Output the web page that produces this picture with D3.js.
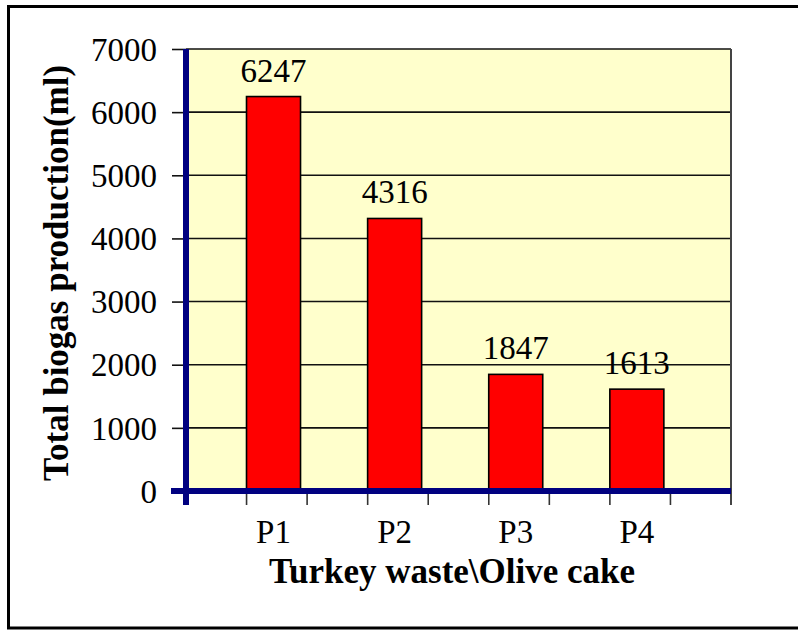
<!DOCTYPE html>
<html>
<head>
<meta charset="utf-8">
<script src="https://cdn.jsdelivr.net/npm/d3@7/dist/d3.min.js"></script>
<style>
  html, body { margin: 0; padding: 0; background: #ffffff; }
  svg { display: block; }
</style>
</head>
<body>
<svg id="chart" width="798" height="630"></svg>
<script>
// ---- data ----
const categories = ["P1", "P2", "P3", "P4"];
const values = [6247, 4316, 1847, 1613];
const yTicks = [0, 1000, 2000, 3000, 4000, 5000, 6000, 7000];
const yTickLabels = ["0", "1000", "2000", "3000", "4000", "5000", "6000", "7000"];
const yTitle = "Total biogas production(ml)";
const xTitle = "Turkey waste\\Olive cake";

// ---- layout ----
const W = 798, H = 630;
const plot = { left: 186, right: 731, top: 49, bottom: 491 };
const slotCount = 9;
const serif = "'Liberation Serif', 'Times New Roman', serif";

const svg = d3.select("#chart");

// outer frame
svg.append("rect")
  .attr("x", 8.5).attr("y", 6.5)
  .attr("width", 800).attr("height", 621.5)
  .attr("fill", "#ffffff")
  .attr("stroke", "#000").attr("stroke-width", 3);

const y = d3.scaleLinear().domain([0, 7000]).range([plot.bottom, plot.top]);
const x = d3.scaleBand().domain(categories)
  .range([plot.left, plot.right])
  .paddingInner(0.554).paddingOuter(0.527).align(0.474);
const slot = d3.scaleLinear().domain([0, slotCount]).range([plot.left, plot.right]);

// plot background
svg.append("rect")
  .attr("x", plot.left).attr("y", plot.top)
  .attr("width", plot.right - plot.left).attr("height", plot.bottom - plot.top)
  .attr("fill", "#FFFFCC");

// gridlines
svg.append("g").selectAll("line").data(yTicks.filter(d => d > 0)).join("line")
  .attr("x1", plot.left).attr("x2", plot.right)
  .attr("y1", d => y(d)).attr("y2", d => y(d))
  .attr("stroke", "#111").attr("stroke-width", 1.6);

// right border of plot
svg.append("line")
  .attr("x1", plot.right).attr("x2", plot.right)
  .attr("y1", plot.top).attr("y2", plot.bottom + 14)
  .attr("stroke", "#444").attr("stroke-width", 2);

// x slot ticks
svg.append("g").selectAll("line").data(d3.range(1, slotCount)).join("line")
  .attr("x1", d => slot(d)).attr("x2", d => slot(d))
  .attr("y1", plot.bottom + 2).attr("y2", plot.bottom + 14)
  .attr("stroke", "#333").attr("stroke-width", 1.6);

// bars
svg.append("g").selectAll("rect").data(values).join("rect")
  .attr("x", (d, i) => x(categories[i]))
  .attr("y", d => y(d))
  .attr("width", x.bandwidth())
  .attr("height", d => y(0) - y(d))
  .attr("fill", "#FF0000")
  .attr("stroke", "#000").attr("stroke-width", 1.6);

// y axis ticks + labels
const yAxis = d3.axisLeft(y).tickValues(yTicks)
  .tickFormat((d, i) => yTickLabels[i])
  .tickSizeInner(14).tickSizeOuter(0).tickPadding(15);
const gy = svg.append("g").attr("transform", `translate(${plot.left},0)`).call(yAxis);
gy.select(".domain").remove();
gy.selectAll(".tick line").attr("stroke", "#111").attr("stroke-width", 1.6);
gy.selectAll(".tick text")
  .attr("font-family", serif).attr("font-size", 33).attr("fill", "#000")
  .attr("dy", "0.34em");

// blue axes
svg.append("line")
  .attr("x1", plot.left - 15).attr("x2", plot.right)
  .attr("y1", plot.bottom).attr("y2", plot.bottom)
  .attr("stroke", "#000080").attr("stroke-width", 6);
svg.append("line")
  .attr("x1", plot.left).attr("x2", plot.left)
  .attr("y1", plot.top).attr("y2", plot.bottom + 14)
  .attr("stroke", "#000080").attr("stroke-width", 6);

// x category labels
svg.append("g").selectAll("text").data(categories).join("text")
  .attr("x", d => x(d) + x.bandwidth() / 2)
  .attr("y", plot.bottom + 52)
  .attr("text-anchor", "middle")
  .attr("font-family", serif).attr("font-size", 33).attr("fill", "#000")
  .text(d => d);

// value labels
svg.append("g").selectAll("text").data(values).join("text")
  .attr("x", (d, i) => x(categories[i]) + x.bandwidth() / 2)
  .attr("y", d => y(d) - 15)
  .attr("text-anchor", "middle")
  .attr("font-family", serif).attr("font-size", 33).attr("fill", "#000")
  .text(d => d);

// axis titles
svg.append("text")
  .attr("x", 452).attr("y", 583)
  .attr("text-anchor", "middle")
  .attr("font-family", serif).attr("font-size", 35).attr("font-weight", "bold")
  .attr("fill", "#000")
  .text(xTitle);

svg.append("text")
  .attr("transform", "translate(68,273) rotate(-90)")
  .attr("text-anchor", "middle")
  .attr("font-family", serif).attr("font-size", 35).attr("font-weight", "bold")
  .attr("fill", "#000")
  .text(yTitle);
</script>
</body>
</html>
